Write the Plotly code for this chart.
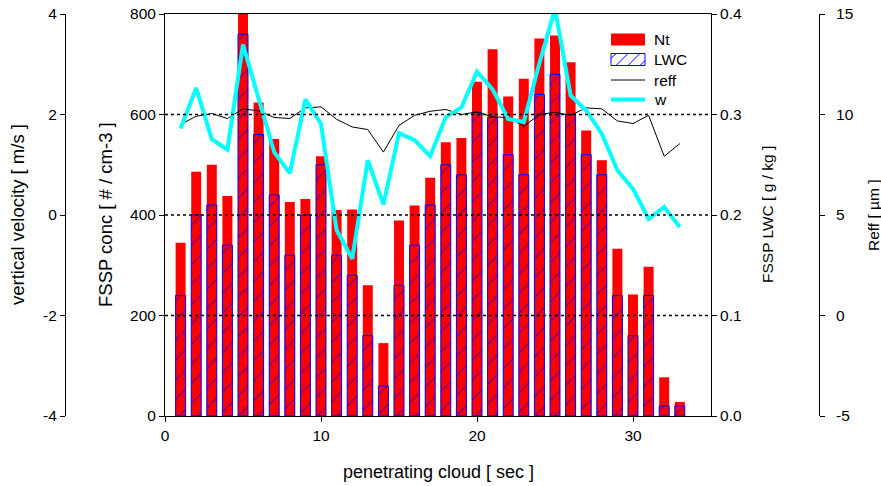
import plotly.graph_objects as go

# ---- data ----
t = list(range(1, 34))
nt = [345, 486, 500, 438, 800, 624, 551, 426, 432, 517, 410, 411, 260, 145, 389,
      419, 474, 545, 553, 665, 730, 636, 671, 751, 757, 704, 568, 509, 333, 242,
      297, 77, 28]
lwc = [0.12, 0.20, 0.21, 0.17, 0.38, 0.28, 0.22, 0.16, 0.20, 0.25, 0.16, 0.14,
       0.08, 0.03, 0.13, 0.17, 0.21, 0.25, 0.24, 0.302, 0.297, 0.26, 0.24, 0.32,
       0.34, 0.30, 0.26, 0.24, 0.12, 0.08, 0.12, 0.01, 0.01]
reff = [9.51, 9.91, 10.05, 9.80, 10.28, 10.18, 9.85, 9.80, 10.33, 10.38, 9.76,
        9.38, 9.25, 8.13, 9.46, 9.96, 10.16, 10.25, 10.0, 10.13, 9.88, 9.85,
        9.41, 10.0, 10.11, 9.96, 10.33, 10.28, 9.68, 9.55, 9.96, 7.92, 8.55]
w = [1.72, 2.53, 1.51, 1.30, 3.39, 2.31, 1.25, 0.83, 2.30, 1.81, -0.30, -0.87,
     1.09, 0.21, 1.63, 1.49, 1.17, 1.95, 2.14, 2.85, 2.50, 1.91, 1.85, 3.02,
     4.1, 2.38, 2.08, 1.62, 0.89, 0.52, -0.08, 0.16, -0.24]

x_ticks = [0, 10, 20, 30]
conc_ticks = [0, 200, 400, 600, 800]
lwc_ticks = [0.0, 0.1, 0.2, 0.3, 0.4]
lwc_labels = ["0.0", "0.1", "0.2", "0.3", "0.4"]
reff_ticks = [-5, 0, 5, 10, 15]
reff_labels = ["-5", "0", "5", "10", "15"]
w_ticks = [-4, -2, 0, 2, 4]
w_labels = ["-4", "-2", "0", "2", "4"]
grid_vals = [200, 400, 600]
legend_names = ["Nt", "LWC", "reff", "w"]

FONT = "Liberation Sans, Arial, sans-serif"
W, H = 881, 486
TOP, BOT = 14, 416
PH = BOT - TOP
x0px, x1px = 165, 711


def px_x(p):
    return p / W


def px_y(p):
    return (BOT - p) / PH


fig = go.Figure()
fig.add_trace(go.Bar(x=t, y=nt, name="Nt", width=0.64, yaxis="y",
                     marker=dict(color="#ff0000", line=dict(width=0))))
fig.add_trace(go.Bar(x=t, y=lwc, name="LWC", width=0.64, yaxis="y2",
                     marker=dict(color="rgba(0,0,0,0)",
                                 line=dict(color="#0000ff", width=1),
                                 pattern=dict(shape="/", fgcolor="#0000ff",
                                              bgcolor="rgba(0,0,0,0)",
                                              size=14, solidity=0.1))))
fig.add_trace(go.Scatter(x=t, y=reff, name="reff", mode="lines", yaxis="y3",
                         line=dict(color="black", width=1)))
fig.add_trace(go.Scatter(x=t, y=w, name="w", mode="lines", yaxis="y4",
                         line=dict(color="#00ffff", width=4)))

axis_common = dict(showgrid=False, zeroline=False, showline=True,
                   linecolor="black", linewidth=1, ticks="outside", ticklen=5,
                   tickcolor="black",
                   tickfont=dict(size=15.5, color="black", family=FONT))

fig.update_layout(
    width=W, height=H,
    margin=dict(l=0, r=0, t=TOP, b=H - BOT, autoexpand=False),
    paper_bgcolor="white", plot_bgcolor="white",
    font=dict(family=FONT, color="black"),
    barmode="overlay",
    showlegend=False,
    hovermode=False,
    xaxis=dict(domain=[px_x(x0px), px_x(x1px)], range=[0, 35], tickvals=x_ticks,
               mirror=True, **axis_common),
    yaxis=dict(range=[0, 800], tickvals=conc_ticks, side="left", **axis_common),
    yaxis2=dict(range=[0, 0.4], tickvals=lwc_ticks, ticktext=lwc_labels,
                overlaying="y", side="right", anchor="x", **axis_common),
    yaxis3=dict(range=[-5, 15], tickvals=reff_ticks, ticktext=reff_labels,
                overlaying="y", side="right", anchor="free", position=px_x(819),
                ticklabelstandoff=8, **axis_common),
    yaxis4=dict(range=[-4, 4], tickvals=w_ticks, ticktext=w_labels,
                overlaying="y", side="left", anchor="free", position=px_x(65),
                **axis_common),
)

# dotted grid lines drawn above the bars
for g in grid_vals:
    fig.add_shape(type="line", xref="x domain", yref="y", x0=0, x1=1, y0=g, y1=g,
                  line=dict(color="black", width=1.3, dash="dot"), layer="above")

# ---- legend (symbols drawn as shapes, labels as text) ----
lx0, lx1 = 611, 645
rows = [39.5, 59.5, 80, 99.5]
# Nt: solid red box
fig.add_shape(type="rect", xref="paper", yref="paper",
              x0=px_x(lx0), x1=px_x(lx1), y0=px_y(rows[0] + 6), y1=px_y(rows[0] - 6),
              fillcolor="#ff0000", line=dict(width=0), layer="above")
# LWC: hatched box with blue outline
yb, yt = rows[1] + 6, rows[1] - 6
fig.add_shape(type="rect", xref="paper", yref="paper",
              x0=px_x(lx0), x1=px_x(lx1), y0=px_y(yb), y1=px_y(yt),
              fillcolor="rgba(0,0,0,0)", line=dict(color="#0000ff", width=1),
              layer="above")
hh = yb - yt
for b in [604, 616, 628, 640]:
    xs, ys, xe, ye = b, yb, b + hh, yt
    if xs < lx0:
        ys -= (lx0 - xs); xs = lx0
    if xe > lx1:
        ye += (xe - lx1); xe = lx1
    if xe > xs:
        fig.add_shape(type="line", xref="paper", yref="paper",
                      x0=px_x(xs), x1=px_x(xe), y0=px_y(ys), y1=px_y(ye),
                      line=dict(color="#0000ff", width=1), layer="above")
# reff: thin black line
fig.add_shape(type="line", xref="paper", yref="paper",
              x0=px_x(lx0), x1=px_x(lx1), y0=px_y(rows[2]), y1=px_y(rows[2]),
              line=dict(color="black", width=1), layer="above")
# w: thick cyan line
fig.add_shape(type="line", xref="paper", yref="paper",
              x0=px_x(lx0), x1=px_x(lx1), y0=px_y(rows[3]), y1=px_y(rows[3]),
              line=dict(color="#00ffff", width=4), layer="above")
for name, ry in zip(legend_names, rows):
    fig.add_annotation(text=name, x=px_x(652), y=px_y(ry), xref="paper", yref="paper",
                       xanchor="left", yanchor="middle", showarrow=False,
                       font=dict(size=15.5, family=FONT, color="black"))

# ---- axis titles ----
titles = [
    ("vertical velocity [ m/s ]", 17, 18.5),
    ("FSSP conc [ # / cm-3 ]", 105, 18.5),
    ("FSSP LWC [ g / kg ]", 767, 15.5),
    ("Reff [ µm ]", 873, 15.5),
]
for txt, xp, fs in titles:
    fig.add_annotation(text=txt, x=px_x(xp), y=px_y(215), xref="paper", yref="paper",
                       xanchor="center", yanchor="middle", textangle=-90,
                       showarrow=False, font=dict(size=fs, family=FONT, color="black"))
fig.add_annotation(text="penetrating cloud [ sec ]", x=px_x((x0px + x1px) / 2),
                   y=px_y(471.5), xref="paper", yref="paper",
                   xanchor="center", yanchor="middle", showarrow=False,
                   font=dict(size=18, family=FONT, color="black"))

fig.write_html("out.html",
               config={"displayModeBar": False, "staticPlot": True},
               post_script="document.body.style.margin='0';"
                           "document.body.style.overflow='hidden';")
